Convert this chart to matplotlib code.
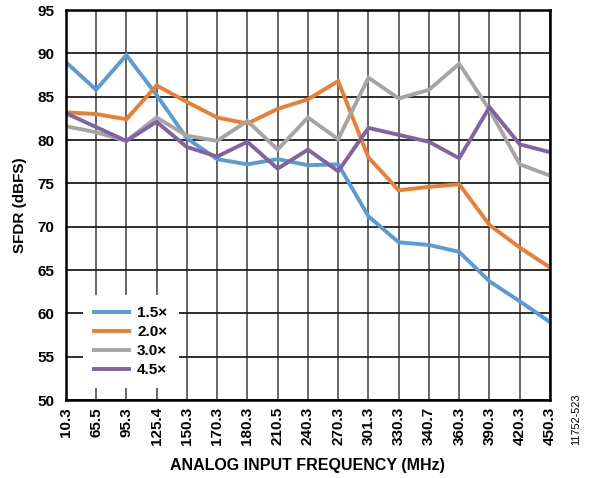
import numpy as np
import matplotlib.pyplot as plt

plt.rcParams['font.family'] = ['Liberation Sans', 'DejaVu Sans']

freqs = ['10.3', '65.5', '95.3', '125.4', '150.3', '170.3', '180.3', '210.5', '240.3',
         '270.3', '301.3', '330.3', '340.7', '360.3', '390.3', '420.3', '450.3']

sfdr_15 = [89.0, 85.8, 89.8, 85.2, 80.2, 77.8, 77.2, 77.8, 77.1, 77.2, 71.2, 68.2, 67.9, 67.1, 63.7, 61.4, 59.0]
sfdr_20 = [83.2, 83.0, 82.4, 86.3, 84.4, 82.6, 81.9, 83.6, 84.7, 86.8, 78.0, 74.2, 74.6, 74.9, 70.2, 67.6, 65.3]
sfdr_30 = [81.6, 80.9, 79.9, 82.6, 80.5, 79.9, 82.2, 78.9, 82.6, 80.1, 87.2, 84.8, 85.8, 88.8, 83.5, 77.2, 75.9]
sfdr_45 = [83.1, 81.5, 79.9, 82.1, 79.2, 78.1, 79.8, 76.7, 78.9, 76.4, 81.4, 80.6, 79.8, 77.9, 83.8, 79.5, 78.6]

labels = ['1.5×', '2.0×', '3.0×', '4.5×']
colors = ['#5B9BD5', '#ED7D31', '#A5A5A5', '#8064A2']

fig = plt.figure(figsize=(5.93, 4.78), dpi=100)
ax = fig.add_axes([0.111, 0.163, 0.8165, 0.816])

x = np.arange(len(freqs))
for y, lab, c in zip([sfdr_15, sfdr_20, sfdr_30, sfdr_45], labels, colors):
    ax.plot(x, y, color=c, lw=2.8, label=lab, solid_joinstyle='miter')

ax.set_xlim(0, len(freqs) - 1)
ax.set_ylim(50, 95)
ax.set_xticks(x)
ax.set_xticklabels(freqs, rotation=90, fontsize=11, fontweight='bold',
                   family=['Liberation Sans Narrow', 'Liberation Sans'])
ax.set_yticks(np.arange(50, 96, 5))
ax.set_yticklabels([str(v) for v in range(50, 96, 5)], fontsize=11, fontweight='bold')
ax.tick_params(axis='y', length=0, pad=8)
ax.tick_params(axis='x', length=0, pad=5)
ax.xaxis.grid(True, color='#5a5a5a', lw=1.3)
ax.yaxis.grid(True, color='#1e1e1e', lw=1.3)
ax.set_axisbelow(True)
for s in ax.spines.values():
    s.set_color('black')
    s.set_linewidth(1.8)

ax.set_ylabel('SFDR (dBFS)', fontsize=11, fontweight='bold', labelpad=8)
ax.set_xlabel('ANALOG INPUT FREQUENCY (MHz)', fontsize=11.5, fontweight='bold', labelpad=9)

leg = ax.legend(loc='lower left', bbox_to_anchor=(0.035, 0.03),
                prop={'weight': 'bold', 'size': 11}, frameon=True, fancybox=False,
                framealpha=1, edgecolor='none', facecolor='white',
                handlelength=2.3, handletextpad=0.5, labelspacing=0.32, borderpad=0.75,
                borderaxespad=0)

fig.text(0.972, 0.122, '11752-523', rotation=90, fontsize=7.8, ha='center', va='center')

fig.savefig('out.png', dpi=100)
